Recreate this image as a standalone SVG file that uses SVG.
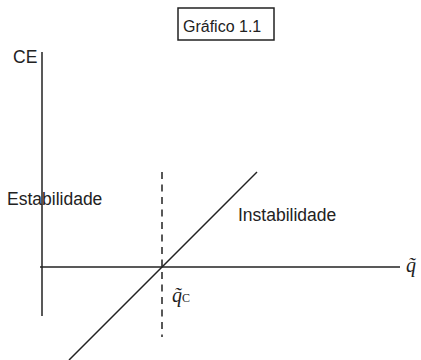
<svg xmlns="http://www.w3.org/2000/svg" width="421" height="360" viewBox="0 0 421 360">
<style>
.lbl{font-family:"Liberation Sans",Arial,sans-serif;font-size:17.5px;fill:#222}
.ax{stroke:#222;stroke-width:1.5;fill:none}
.m{font-family:"Liberation Serif","Times New Roman",serif;font-style:italic;fill:#222}
</style>
<rect width="421" height="360" fill="#fff"/>
<g id="title">
<rect x="178" y="8" width="96" height="32" fill="#fff" stroke="#222" stroke-width="1.5"/>
<text class="lbl" x="183" y="32" style="font-size:16px">Gráfico 1.1</text>
</g>
<g id="connectors">
<line class="ax" x1="42" y1="52" x2="42" y2="316"/>
<line class="ax" x1="40" y1="267" x2="400" y2="267"/>
<line class="ax" x1="162" y1="172" x2="162" y2="337" stroke-dasharray="7 5.5"/>
<line class="ax" x1="69" y1="360" x2="257" y2="172"/>
</g>
<g id="labels">
<text class="lbl" x="13" y="63">CE</text>
<text class="lbl" x="7" y="205">Estabilidade</text>
<text class="lbl" x="238" y="221">Instabilidade</text>
<text class="m" x="406" y="272" font-size="20">q̃</text>
<text class="m" x="172" y="302" font-size="20">q̃<tspan font-style="normal" font-size="12">C</tspan></text>
</g>
</svg>
